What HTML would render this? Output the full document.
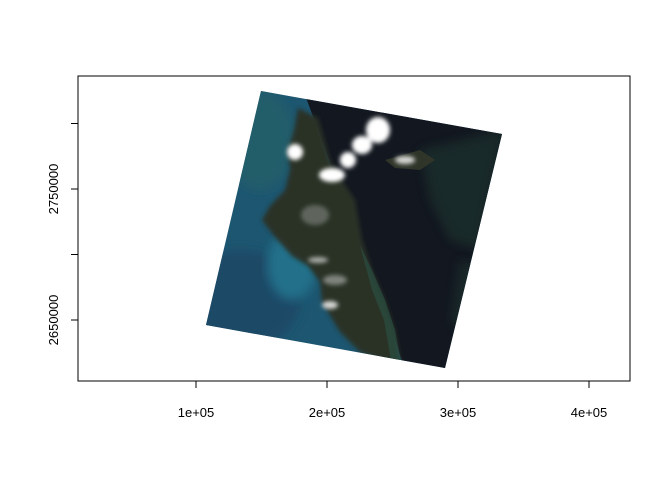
<!DOCTYPE html>
<html><head><meta charset="utf-8"><style>
html,body{margin:0;padding:0;background:#fff;}
svg{display:block;font-family:"Liberation Sans",sans-serif;}
</style></head><body>
<svg width="672" height="480" viewBox="0 0 672 480">
<defs>
<clipPath id="scene"><polygon points="261,91 502,134 445,368 206,325"/></clipPath>
<filter id="blur2"><feGaussianBlur stdDeviation="2"/></filter>
<filter id="blur4"><feGaussianBlur stdDeviation="5"/></filter>
</defs>
<g clip-path="url(#scene)">
  <rect x="200" y="85" width="310" height="290" fill="#1d5670"/>
  <ellipse cx="240" cy="300" rx="60" ry="50" fill="#1a4866" filter="url(#blur4)"/>
  <ellipse cx="292" cy="265" rx="25" ry="35" fill="#246f8a" filter="url(#blur4)"/>
  <ellipse cx="260" cy="140" rx="35" ry="50" fill="#215d6a" filter="url(#blur4)"/>
  <polygon points="305,95 520,120 520,380 405,370 385,310 360,250 340,190 318,130" fill="#131820"/>
  <polygon points="420,150 505,130 480,250 450,240 430,200" fill="#1b332e" filter="url(#blur4)" opacity="0.7"/>
  <polygon points="460,260 490,270 470,340 450,320" fill="#1c332e" filter="url(#blur4)" opacity="0.6"/>
  <polygon points="298,108 318,118 330,160 345,185 355,200 362,240 372,270 385,300 395,330 402,368 385,362 360,352 340,332 322,302 320,282 308,266 292,256 274,236 262,220 270,206 285,190 290,170 288,150 294,130" fill="#2c3125" filter="url(#blur2)"/>
  <polygon points="372,270 385,300 395,330 402,368 392,366 384,320 372,290 360,245" fill="#2a5446" opacity="0.6"/>
  <polygon points="385,160 420,150 435,160 420,170 395,168" fill="#30352a"/>
  <g fill="#ffffff" filter="url(#blur2)">
    <ellipse cx="378" cy="130" rx="12" ry="13"/>
    <ellipse cx="362" cy="145" rx="10" ry="9"/>
    <ellipse cx="348" cy="160" rx="8" ry="8"/>
    <ellipse cx="332" cy="175" rx="13" ry="7"/>
    <ellipse cx="295" cy="152" rx="8" ry="8"/>
    <ellipse cx="405" cy="160" rx="10" ry="4" opacity="0.8"/>
    <ellipse cx="318" cy="260" rx="10" ry="3" opacity="0.6"/>
    <ellipse cx="330" cy="305" rx="8" ry="4" opacity="0.8"/>
    <ellipse cx="315" cy="215" rx="14" ry="10" opacity="0.25"/>
    <ellipse cx="335" cy="280" rx="12" ry="5" opacity="0.4"/>
  </g>
</g>
<rect x="78" y="76" width="552" height="305" fill="none" stroke="#000" stroke-width="1"/>
<g id="xaxis" stroke="#000"></g>
<g id="yaxis" stroke="#000"></g>
<script>
const xTicks=[100000,200000,300000,400000];
const xLabels=["1e+05","2e+05","3e+05","4e+05"];
const yTicks=[2650000,2700000,2750000,2800000];
const yLabels=["2650000","","2750000",""];
const sx=v=>196+(v-100000)*131/100000;
const sy=v=>320-(v-2650000)*131/100000;
const NS="http://www.w3.org/2000/svg";
const xa=document.getElementById('xaxis'),ya=document.getElementById('yaxis');
xTicks.forEach((t,i)=>{
  const x=sx(t);
  const l=document.createElementNS(NS,'line');
  l.setAttribute('x1',x);l.setAttribute('x2',x);l.setAttribute('y1',381);l.setAttribute('y2',388);
  
  
  xa.appendChild(l);
  const tx=document.createElementNS(NS,'text');
  tx.setAttribute('x',x);tx.setAttribute('y',417);tx.setAttribute('text-anchor','middle');
  tx.setAttribute('font-size','13');tx.setAttribute('stroke','none');tx.textContent=xLabels[i];
  
  
  xa.appendChild(tx);
});
yTicks.forEach((t,i)=>{
  const y=sy(t);
  const l=document.createElementNS(NS,'line');
  l.setAttribute('x1',71);l.setAttribute('x2',78);l.setAttribute('y1',y);l.setAttribute('y2',y);
  
  
  ya.appendChild(l);
  if(yLabels[i]){
    const tx=document.createElementNS(NS,'text');
    tx.setAttribute('transform','translate(58,'+y+') rotate(-90)');
    tx.setAttribute('text-anchor','middle');tx.setAttribute('font-size','13');tx.setAttribute('stroke','none');
    tx.textContent=yLabels[i];
    
    
    ya.appendChild(tx);
  }
});
</script>
</svg>
</body></html>
